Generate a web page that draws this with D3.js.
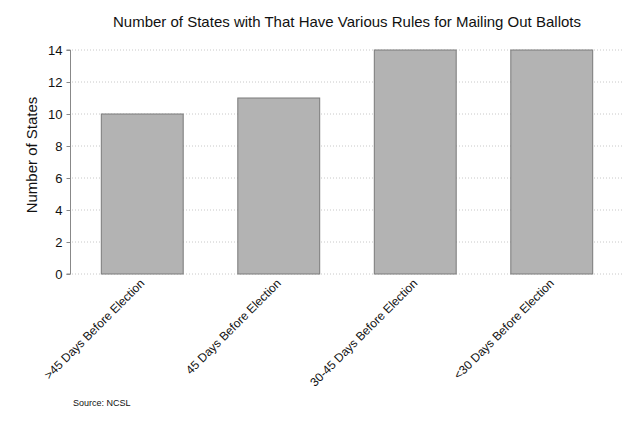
<!DOCTYPE html>
<html><head><meta charset="utf-8">
<script src="https://cdn.jsdelivr.net/npm/d3@7"></script>
<style>body{margin:0;background:#fff;} text{font-family:"Liberation Sans",Arial,Helvetica,sans-serif;}</style>
</head><body>
<svg id="c" width="639" height="426"></svg>
<script>
const categories = [">45 Days Before Election", "45 Days Before Election", "30-45 Days Before Election", "<30 Days Before Election"];
const values = [10, 11, 14, 14];
const yTicks = [0, 2, 4, 6, 8, 10, 12, 14];
const titleText = "Number of States with That Have Various Rules for Mailing Out Ballots";
const yLabel = "Number of States";
const sourceText = "Source: NCSL";

const svg = d3.select("#c");
const x = d3.scaleBand().domain(categories).range([74, 620]).paddingInner(0.4).paddingOuter(0.2);
const y = d3.scaleLinear().domain([0, 14]).range([274, 50]);

// gridlines
svg.append("g").selectAll("line").data(yTicks).join("line")
  .attr("x1", 72).attr("x2", 623)
  .attr("y1", d => y(d)).attr("y2", d => y(d))
  .attr("stroke", "#c8c8c8").attr("stroke-width", 1).attr("stroke-dasharray", "1,2");

// bars
svg.append("g").selectAll("rect").data(categories).join("rect")
  .attr("x", d => x(d)).attr("width", x.bandwidth())
  .attr("y", (d, i) => y(values[i])).attr("height", (d, i) => y(0) - y(values[i]))
  .attr("fill", "#b3b3b3").attr("stroke", "#7a7a7a").attr("stroke-width", 1);

// y axis
const yAxis = d3.axisLeft(y).tickValues(yTicks).tickSize(4).tickPadding(4);
const ga = svg.append("g").attr("transform", "translate(70.5,0)").call(yAxis);
ga.select(".domain").attr("stroke", "#888").attr("d", `M-4,${y(14)}H0V${y(0)}H-4`);
ga.selectAll(".tick line").attr("stroke", "#888");
ga.selectAll(".tick text").attr("font-size", 13).attr("fill", "#111")
  .style("font-family", '"Liberation Sans",Arial,sans-serif');

// x labels
svg.append("g").selectAll("text").data(categories).join("text")
  .attr("transform", d => `translate(${x(d) + x.bandwidth() / 2 + 3},${284}) rotate(-45)`)
  .attr("text-anchor", "end").attr("font-size", 12).attr("fill", "#111")
  .text(d => d);

// title
svg.append("text").attr("x", 347).attr("y", 27).attr("text-anchor", "middle")
  .attr("font-size", 15).attr("fill", "#111").text(titleText);

// y label
svg.append("text").attr("transform", `translate(37,155) rotate(-90)`).attr("text-anchor", "middle")
  .attr("font-size", 15).attr("fill", "#111").text(yLabel);

// source
svg.append("text").attr("x", 73).attr("y", 406).attr("font-size", 9).attr("fill", "#111").text(sourceText);
</script>
</body></html>
